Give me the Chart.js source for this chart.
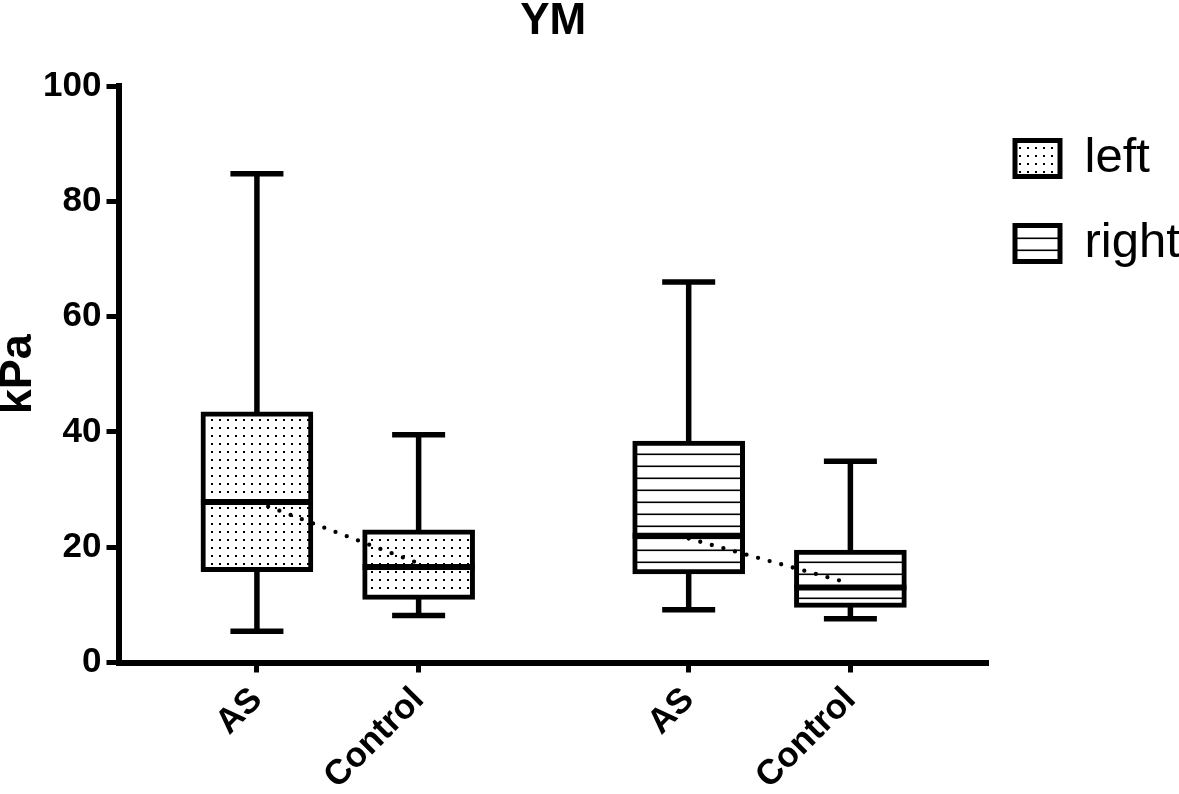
<!DOCTYPE html>
<html>
<head>
<meta charset="utf-8">
<title>YM</title>
<script src="https://cdn.jsdelivr.net/npm/chart.js@4/dist/chart.umd.min.js"></script>
<style>
  html, body { margin: 0; padding: 0; background: #fff; }
  #wrap { width: 1179px; height: 794px; }
</style>
</head>
<body>
<div id="wrap"><canvas id="c"></canvas></div>
<script>
// values (kPa)
const groups = ['AS', 'Control', 'AS', 'Control'];
const groupPos = [1, 2, 3.67, 4.67];
const sides = ['left', 'right'];
const whiskerMin = [5.4, 8.15, 9.16, 7.58];
const q1 = [15.75, 10.96, 15.35, 9.57];
const median = [27.85, 16.57, 22.0, 13.0];
const q3 = [43.5, 23.0, 38.4, 19.5];
const whiskerMax = [84.8, 39.5, 66.0, 34.9];
const means = [27.8, 17.2, 21.5, 13.7];
const yTicks = [0, 20, 40, 60, 80, 100];

const FONT = "'Liberation Sans', Arial, sans-serif";
const BOX_W = 112;
const CAP_W = 53;

const ctx = document.getElementById('c').getContext('2d');

// fill patterns: dots for left, horizontal lines for right
function dotPattern() {
  const t = document.createElement('canvas');
  t.width = 8; t.height = 8;
  const g = t.getContext('2d');
  g.fillStyle = '#fff'; g.fillRect(0, 0, 8, 8);
  g.fillStyle = '#000'; g.fillRect(3, 3, 2, 2);
  return ctx.createPattern(t, 'repeat');
}

function linePattern() {
  const t = document.createElement('canvas');
  t.width = 12; t.height = 12;
  const g = t.getContext('2d');
  g.fillStyle = '#fff'; g.fillRect(0, 0, 12, 12);
  g.fillStyle = '#000'; g.fillRect(0, 9.5, 12, 1.6);
  return ctx.createPattern(t, 'repeat');
}

const fills = [dotPattern(), linePattern()];

function boxData(side) {
  const out = [];
  groups.forEach((g, i) => {
    if (Math.floor(i / 2) === sides.indexOf(side)) out.push({ x: groupPos[i], y: [q1[i], q3[i]] });
  });
  return out;
}

function meanLine(side) {
  const out = [];
  groups.forEach((g, i) => {
    if (Math.floor(i / 2) === sides.indexOf(side)) out.push({ x: groupPos[i], y: means[i] });
  });
  return out;
}

// whiskers behind the boxes, medians on top
const whiskers = {
  id: 'whiskers',
  beforeDatasetsDraw(chart) {
    const { ctx, scales: { x, y } } = chart;
    ctx.save();
    ctx.strokeStyle = '#000';
    ctx.lineWidth = 5.5;
    groupPos.forEach((v, i) => {
      const px = x.getPixelForValue(v);
      const lo = y.getPixelForValue(whiskerMin[i]);
      const hi = y.getPixelForValue(whiskerMax[i]);
      ctx.beginPath();
      ctx.moveTo(px, lo); ctx.lineTo(px, hi);
      ctx.moveTo(px - CAP_W / 2, lo); ctx.lineTo(px + CAP_W / 2, lo);
      ctx.moveTo(px - CAP_W / 2, hi); ctx.lineTo(px + CAP_W / 2, hi);
      ctx.stroke();
    });
    ctx.restore();
  },
  afterDatasetsDraw(chart) {
    const { ctx, scales: { x, y } } = chart;
    ctx.save();
    ctx.strokeStyle = '#000';
    ctx.lineWidth = 6;
    groupPos.forEach((v, i) => {
      const px = x.getPixelForValue(v);
      const py = y.getPixelForValue(median[i]);
      ctx.beginPath();
      ctx.moveTo(px - BOX_W / 2, py); ctx.lineTo(px + BOX_W / 2, py);
      ctx.stroke();
    });
    ctx.restore();
  }
};

const boxSet = (side, k) => ({
  type: 'bar',
  label: side,
  data: boxData(side),
  backgroundColor: fills[k],
  borderColor: '#000',
  borderWidth: 5,
  borderSkipped: false,
  barThickness: BOX_W,
  grouped: false,
  order: 2
});

const lineSet = (side) => ({
  type: 'line',
  label: side + ' mean',
  data: meanLine(side),
  borderColor: '#000',
  borderWidth: 4.3,
  borderDash: [0, 12],
  borderCapStyle: 'round',
  pointRadius: 0,
  fill: false,
  order: 0
});

new Chart(ctx, {
  type: 'bar',
  data: {
    datasets: [boxSet('left', 0), boxSet('right', 1), lineSet('left'), lineSet('right')]
  },
  options: {
    responsive: true,
    maintainAspectRatio: false,
    animation: false,
    devicePixelRatio: 1,
    layout: { padding: 0 },
    scales: {
      x: {
        type: 'linear',
        min: 0.144,
        max: 5.521,
        offset: false,
        afterBuildTicks: s => { s.ticks = groupPos.map(v => ({ value: v })); },
        afterFit: s => { s.height = 131.5; },
        ticks: {
          autoSkip: false,
          minRotation: 45,
          maxRotation: 45,
          padding: 7,
          color: '#000',
          font: { family: FONT, size: 35, weight: 'bold' },
          callback: (v, i) => groups[i]
        },
        grid: { display: true, offset: false, drawOnChartArea: false, drawTicks: true, tickLength: 10, tickWidth: 5, tickColor: '#000' },
        border: { display: true, width: 6, color: '#000' }
      },
      y: {
        min: 0,
        max: 100,
        afterBuildTicks: s => { s.ticks = yTicks.map(v => ({ value: v })); },
        afterFit: s => { s.width = 118.5; },
        ticks: {
          padding: 5,
          color: '#000',
          font: { family: FONT, size: 35, weight: 'bold' }
        },
        grid: { display: true, drawOnChartArea: false, drawTicks: true, tickLength: 12, tickWidth: 5, tickColor: '#000' },
        border: { display: true, width: 6, color: '#000' },
        title: {
          display: true,
          text: 'kPa',
          color: '#000',
          font: { family: FONT, size: 45, weight: 'bold', lineHeight: 0.8 },
          padding: { top: 1, bottom: 0 }
        }
      }
    },
    plugins: {
      tooltip: { enabled: false },
      title: {
        display: true,
        text: 'YM',
        fullSize: false,
        color: '#000',
        font: { family: FONT, size: 44, weight: 'bold', lineHeight: 0.8 },
        padding: { top: 4, bottom: 46.8 }
      },
      legend: {
        position: 'right',
        align: 'start',
        fullSize: false,
        maxWidth: 191,
        title: { display: true, text: '', padding: { top: 20, bottom: 0 }, font: { size: 1, lineHeight: 1 } },
        labels: {
          boxWidth: 45,
          boxHeight: 36,
          padding: 27,
          color: '#000',
          font: { family: FONT, size: 49, lineHeight: 58 / 49 },
          generateLabels: chart => chart.data.datasets
            .map((d, i) => ({
              text: [d.label],
              fillStyle: d.backgroundColor,
              strokeStyle: '#000',
              lineWidth: 5,
              fontColor: '#000',
              hidden: false,
              datasetIndex: i,
              type: d.type
            }))
            .filter(l => l.type === 'bar')
        }
      }
    }
  },
  plugins: [whiskers]
});
</script>
</body>
</html>
